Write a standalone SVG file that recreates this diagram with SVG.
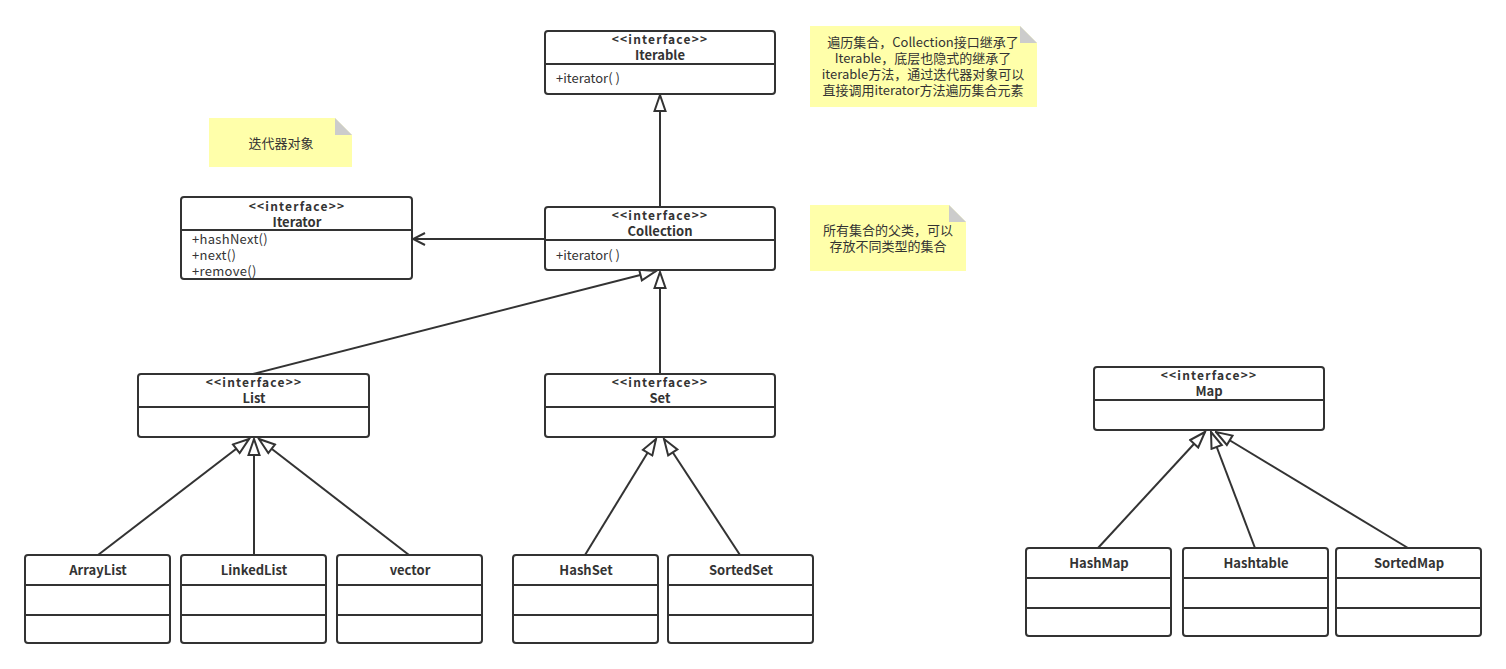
<svg xmlns="http://www.w3.org/2000/svg" width="1506" height="669" viewBox="0 0 1506 669">
<style>
.box{fill:#fff;stroke:#333;stroke-width:2}
.ln{stroke:#333;stroke-width:2;fill:none}
.t{font-family:"Noto Sans CJK SC","Microsoft YaHei",sans-serif;font-size:13px;fill:#333}
.b{font-weight:bold;text-anchor:middle}
.st{font-size:12px;letter-spacing:1.2px}
.m{text-anchor:start}
.note{fill:#ffffaa}
.fold{fill:#cccccc}
.nt{font-family:"Noto Sans CJK SC","Microsoft YaHei",sans-serif;font-size:13px;fill:#333;text-anchor:middle}
</style>
<defs>
<marker id="tri" markerUnits="userSpaceOnUse" markerWidth="20" markerHeight="14" viewBox="-1 -7 19 14" refX="17" refY="0" orient="auto">
<path d="M17,0 L1,-5.5 L1,5.5 Z" fill="#fff" stroke="#333" stroke-width="2" stroke-linejoin="miter"/>
</marker>
<marker id="open" markerUnits="userSpaceOnUse" markerWidth="16" markerHeight="14" viewBox="-1 -7 16 14" refX="13" refY="0" orient="auto">
<path d="M1,-6 L13,0 L1,6" fill="none" stroke="#333" stroke-width="2"/>
</marker>
</defs>
<rect width="1506" height="669" fill="#fff"/>

<g id="connectors">
<line class="ln" x1="660" y1="207" x2="660" y2="95" marker-end="url(#tri)"/>
<line class="ln" x1="545" y1="239" x2="413" y2="239" marker-end="url(#open)"/>
<line class="ln" x1="253" y1="374" x2="656" y2="271" marker-end="url(#tri)"/>
<line class="ln" x1="660" y1="374" x2="660" y2="272" marker-end="url(#tri)"/>
<line class="ln" x1="98" y1="555" x2="249" y2="439" marker-end="url(#tri)"/>
<line class="ln" x1="254" y1="555" x2="254" y2="439" marker-end="url(#tri)"/>
<line class="ln" x1="409" y1="555" x2="259" y2="439" marker-end="url(#tri)"/>
<line class="ln" x1="585" y1="555" x2="656" y2="439" marker-end="url(#tri)"/>
<line class="ln" x1="740" y1="555" x2="664" y2="439" marker-end="url(#tri)"/>
<line class="ln" x1="1098" y1="548" x2="1205" y2="432" marker-end="url(#tri)"/>
<line class="ln" x1="1255" y1="548" x2="1211" y2="432" marker-end="url(#tri)"/>
<line class="ln" x1="1408" y1="548" x2="1216" y2="432" marker-end="url(#tri)"/>
</g>

<g id="note-iterable">
<path class="note" d="M810,26 H1020 L1037,43 V107 H810 Z"/>
<path class="fold" d="M1020,26 L1037,43 H1020 Z"/>
<text class="nt" x="923" y="47">遍历集合，Collection接口继承了</text>
<text class="nt" x="923" y="63">Iterable，底层也隐式的继承了</text>
<text class="nt" x="923" y="79">iterable方法，通过迭代器对象可以</text>
<text class="nt" x="923" y="95">直接调用iterator方法遍历集合元素</text>
</g>

<g id="note-iterator">
<path class="note" d="M209,118 H335 L352,135 V167 H209 Z"/>
<path class="fold" d="M335,118 L352,135 H335 Z"/>
<text class="nt" x="281" y="148">迭代器对象</text>
</g>

<g id="note-collection">
<path class="note" d="M810,205 H949 L966,222 V271 H810 Z"/>
<path class="fold" d="M949,205 L966,222 H949 Z"/>
<text class="nt" x="888" y="235">所有集合的父类，可以</text>
<text class="nt" x="888" y="251">存放不同类型的集合</text>
</g>

<g id="iterable">
<rect class="box" x="545" y="31" width="230" height="63" rx="3"/>
<line class="ln" x1="545" y1="64" x2="775" y2="64"/>
<text class="t b st" x="660" y="44">&lt;&lt;interface&gt;&gt;</text>
<text class="t b" x="660" y="60">Iterable</text>
<text class="t m" x="556" y="83">+iterator( )</text>
</g>

<g id="collection">
<rect class="box" x="545" y="207" width="230" height="63" rx="3"/>
<line class="ln" x1="545" y1="240" x2="775" y2="240"/>
<text class="t b st" x="660" y="220">&lt;&lt;interface&gt;&gt;</text>
<text class="t b" x="660" y="236">Collection</text>
<text class="t m" x="556" y="260">+iterator( )</text>
</g>

<g id="iterator">
<rect class="box" x="181" y="197" width="231" height="82" rx="3"/>
<line class="ln" x1="181" y1="230" x2="412" y2="230"/>
<text class="t b st" x="297" y="211">&lt;&lt;interface&gt;&gt;</text>
<text class="t b" x="297" y="227">Iterator</text>
<text class="t m" x="192" y="244" style="letter-spacing:0.3px">+hashNext()</text>
<text class="t m" x="192" y="260" style="letter-spacing:0.3px">+next()</text>
<text class="t m" x="192" y="276" style="letter-spacing:0.3px">+remove()</text>
</g>

<g id="list">
<rect class="box" x="138" y="374" width="231" height="63" rx="3"/>
<line class="ln" x1="138" y1="407" x2="369" y2="407"/>
<text class="t b st" x="254" y="387">&lt;&lt;interface&gt;&gt;</text>
<text class="t b" x="254" y="403">List</text>
</g>

<g id="set">
<rect class="box" x="545" y="374" width="230" height="63" rx="3"/>
<line class="ln" x1="545" y1="407" x2="775" y2="407"/>
<text class="t b st" x="660" y="387">&lt;&lt;interface&gt;&gt;</text>
<text class="t b" x="660" y="403">Set</text>
</g>

<g id="map">
<rect class="box" x="1094" y="367" width="230" height="63" rx="3"/>
<line class="ln" x1="1094" y1="400" x2="1324" y2="400"/>
<text class="t b st" x="1209" y="380">&lt;&lt;interface&gt;&gt;</text>
<text class="t b" x="1209" y="396">Map</text>
</g>

<g id="arraylist">
<rect class="box" x="25" y="555" width="145" height="88" rx="3"/>
<line class="ln" x1="25" y1="585" x2="170" y2="585"/>
<line class="ln" x1="25" y1="615" x2="170" y2="615"/>
<text class="t b" x="98" y="575">ArrayList</text>
</g>

<g id="linkedlist">
<rect class="box" x="181" y="555" width="145" height="88" rx="3"/>
<line class="ln" x1="181" y1="585" x2="326" y2="585"/>
<line class="ln" x1="181" y1="615" x2="326" y2="615"/>
<text class="t b" x="254" y="575">LinkedList</text>
</g>

<g id="vector">
<rect class="box" x="337" y="555" width="145" height="88" rx="3"/>
<line class="ln" x1="337" y1="585" x2="482" y2="585"/>
<line class="ln" x1="337" y1="615" x2="482" y2="615"/>
<text class="t b" x="410" y="575">vector</text>
</g>

<g id="hashset">
<rect class="box" x="513" y="555" width="145" height="88" rx="3"/>
<line class="ln" x1="513" y1="585" x2="658" y2="585"/>
<line class="ln" x1="513" y1="615" x2="658" y2="615"/>
<text class="t b" x="586" y="575">HashSet</text>
</g>

<g id="sortedset">
<rect class="box" x="668" y="555" width="145" height="88" rx="3"/>
<line class="ln" x1="668" y1="585" x2="813" y2="585"/>
<line class="ln" x1="668" y1="615" x2="813" y2="615"/>
<text class="t b" x="741" y="575">SortedSet</text>
</g>

<g id="hashmap">
<rect class="box" x="1026" y="548" width="145" height="88" rx="3"/>
<line class="ln" x1="1026" y1="578" x2="1171" y2="578"/>
<line class="ln" x1="1026" y1="608" x2="1171" y2="608"/>
<text class="t b" x="1099" y="568">HashMap</text>
</g>

<g id="hashtable">
<rect class="box" x="1183" y="548" width="145" height="88" rx="3"/>
<line class="ln" x1="1183" y1="578" x2="1328" y2="578"/>
<line class="ln" x1="1183" y1="608" x2="1328" y2="608"/>
<text class="t b" x="1256" y="568">Hashtable</text>
</g>

<g id="sortedmap">
<rect class="box" x="1336" y="548" width="145" height="88" rx="3"/>
<line class="ln" x1="1336" y1="578" x2="1481" y2="578"/>
<line class="ln" x1="1336" y1="608" x2="1481" y2="608"/>
<text class="t b" x="1409" y="568">SortedMap</text>
</g>
</svg>
